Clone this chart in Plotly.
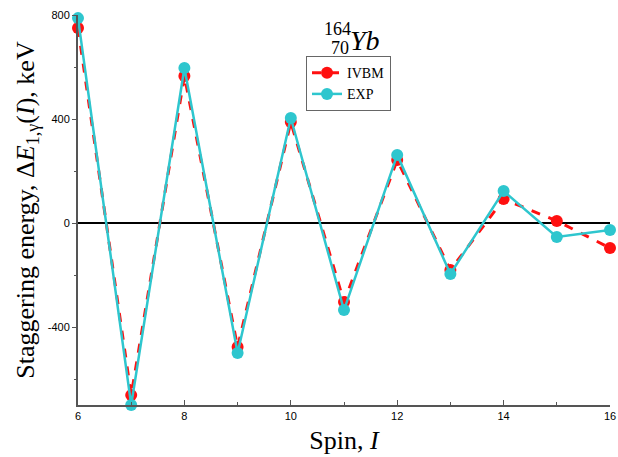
import plotly.graph_objects as go

spin = [6, 7, 8, 9, 10, 11, 12, 13, 14, 15, 16]
ivbm = [750, -662, 565, -477, 388, -304, 242, -181, 92, 8, -96]
exp_vals = [788, -700, 596, -500, 404, -335, 262, -196, 123, -54, -27]

y_ticks = [-400, 0, 400, 800]
x_ticks = [6, 8, 10, 12, 14, 16]

red = "#FF1010"
cyan = "#2EC6CE"
serif = "Liberation Serif, Times New Roman, serif"

fig = go.Figure()
fig.add_trace(go.Scatter(
    x=spin, y=ivbm, name="IVBM", mode="lines+markers",
    line=dict(color=red, width=3, dash="dash"),
    marker=dict(color=red, size=12),
    cliponaxis=False,
))
fig.add_trace(go.Scatter(
    x=spin, y=exp_vals, name="EXP", mode="lines+markers",
    line=dict(color=cyan, width=2.5),
    marker=dict(color=cyan, size=12),
    cliponaxis=False,
))

fig.update_layout(
    width=618, height=457,
    margin=dict(l=78, r=8, t=15, b=52),
    paper_bgcolor="white", plot_bgcolor="white",
    showlegend=True,
    legend=dict(
        x=0.4286, y=0.8946, xanchor="left", yanchor="top",
        bgcolor="white", bordercolor="#666666", borderwidth=1,
        font=dict(family=serif, size=14, color="black"),
        tracegroupgap=0, itemwidth=30,
    ),
    xaxis=dict(
        range=[6, 16], tickvals=x_ticks, ticktext=[str(v) for v in x_ticks],
        automargin=False,
        showgrid=False, zeroline=False,
        showline=True, linecolor="#555555", linewidth=2,
        ticks="inside", ticklen=5, tickcolor="#555555",
        minor=dict(dtick=1, ticks="inside", ticklen=3, tickcolor="#555555"),
        tickfont=dict(family="Liberation Sans, Arial, sans-serif", size=11, color="black"),
        title=dict(text="Spin, <i>I</i>", font=dict(family=serif, size=26, color="black"), standoff=10),
    ),
    yaxis=dict(
        range=[-700, 800], tickvals=y_ticks, ticktext=[str(v) for v in y_ticks],
        automargin=False,
        showgrid=False, zeroline=True, zerolinecolor="black", zerolinewidth=1.5,
        showline=True, linecolor="#555555", linewidth=2,
        ticks="outside", ticklen=4, tickcolor="#555555",
        minor=dict(dtick=200, ticks="outside", ticklen=2, tickcolor="#555555"),
        tickfont=dict(family="Liberation Sans, Arial, sans-serif", size=11, color="black"),
        title=dict(text="Staggering energy, Δ<i>E</i><sub>1,γ</sub>(<i>I</i>), keV",
                   font=dict(family=serif, size=26, color="black"), standoff=6),
    ),
)

# nucleus label  ^{164}_{70}Yb
fig.add_annotation(xref="paper", yref="paper", x=0.4875, y=0.995, xanchor="center", yanchor="top",
                   text="164", showarrow=False, font=dict(family=serif, size=18, color="black"))
fig.add_annotation(xref="paper", yref="paper", x=0.4925, y=0.947, xanchor="center", yanchor="top",
                   text="70", showarrow=False, font=dict(family=serif, size=18, color="black"))
fig.add_annotation(xref="paper", yref="paper", x=0.508, y=0.98, xanchor="left", yanchor="top",
                   text="<i>Yb</i>", showarrow=False, font=dict(family=serif, size=28, color="black"))

fig.write_html("out.html")
